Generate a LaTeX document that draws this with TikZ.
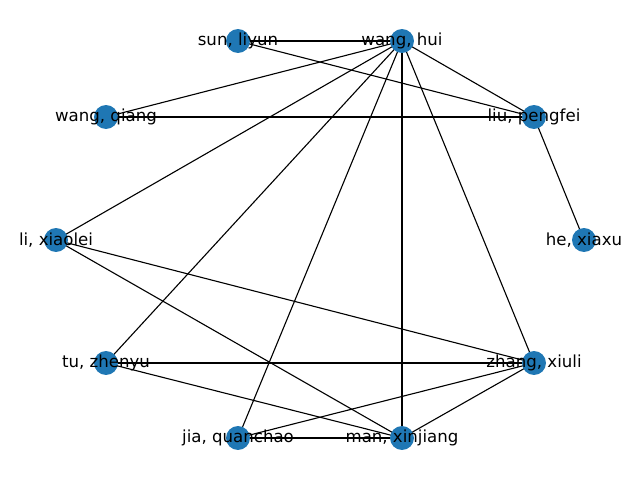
\documentclass[tikz,border=0pt]{standalone}
\usepackage{fontspec}
\setmainfont{DejaVu Sans}
\usepackage{xcolor}
\usepackage{tikz}
\usetikzlibrary{backgrounds}
\definecolor{nodec}{HTML}{1F77B4}
\tikzset{
  pers/.style={circle,fill=nodec,minimum size=17.3pt,inner sep=0pt},
  nm/.style={font=\fontsize{12}{14}\selectfont,text=black},
  ed/.style={black,line width=0.8pt}
}

\begin{document}
\begin{tikzpicture}[x=0.0254cm,y=-0.0254cm]
\useasboundingbox (0,0) rectangle (640,480);
\node[pers,label={[nm]center:sun, liyun}] (sun) at (238,41) {};
\node[pers,label={[nm]center:wang, hui}] (wanghui) at (402,41) {};
\node[pers,label={[nm]center:wang, qiang}] (wangqiang) at (106,117) {};
\node[pers,label={[nm]center:liu, pengfei}] (liu) at (534,117) {};
\node[pers,label={[nm]center:li, xiaolei}] (li) at (56,240) {};
\node[pers,label={[nm]center:he, xiaxu}] (he) at (584,240) {};
\node[pers,label={[nm]center:tu, zhenyu}] (tu) at (106,363) {};
\node[pers,label={[nm]center:zhang, xiuli}] (zhang) at (534,363) {};
\node[pers,label={[nm]center:jia, quanchao}] (jia) at (238,438) {};
\node[pers,label={[nm]center:man, xinjiang}] (man) at (402,438) {};
\begin{scope}[on background layer]
\foreach \a/\b in {sun/wanghui,sun/liu,wanghui/wangqiang,wanghui/liu,wanghui/li,
  wanghui/tu,wanghui/jia,wanghui/man,wanghui/zhang,wangqiang/liu,liu/he,
  li/zhang,li/man,tu/zhang,tu/man,jia/man,jia/zhang,man/zhang}
  \draw[ed] (\a.center) -- (\b.center);
\end{scope}
\end{tikzpicture}
\end{document}
